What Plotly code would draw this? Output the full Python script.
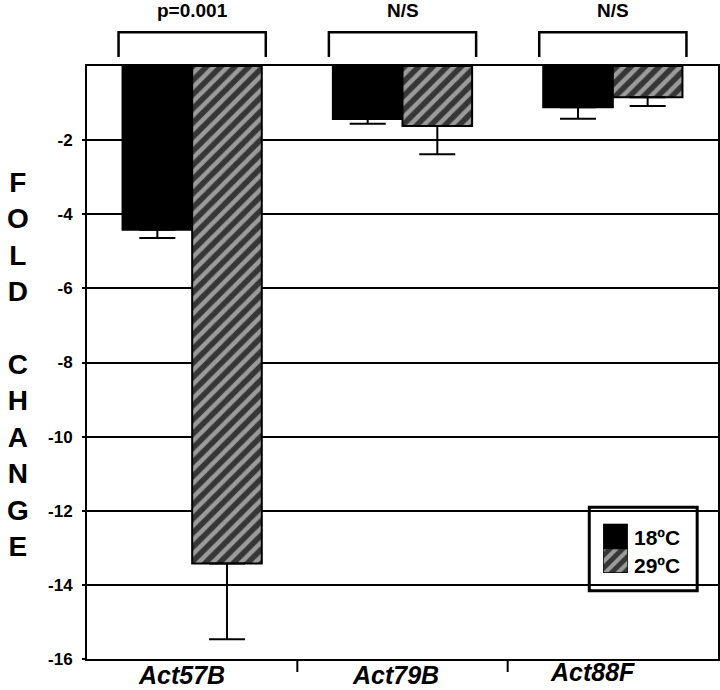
import plotly.graph_objects as go

categories = ["Act57B", "Act79B", "Act88F"]
fold_18 = [-4.42, -1.43, -1.11]
err_18 = [0.22, 0.13, 0.31]
fold_29 = [-13.42, -1.62, -0.84]
err_29 = [2.05, 0.76, 0.24]
significance = ["p=0.001", "N/S", "N/S"]
series_names = ["18ºC", "29ºC"]
tick_vals = [-2, -4, -6, -8, -10, -12, -14, -16]
tick_text = ["-2", "-4", "-6", "-8", "-10", "-12", "-14", "-16"]
y_title = "F<br>O<br>L<br>D<br> <br>C<br>H<br>A<br>N<br>G<br>E"

FONT = "Liberation Sans, Arial, sans-serif"
HATCH = dict(shape="/", fgcolor="white", bgcolor="#363636", size=10, solidity=0.45)
err_style = dict(type="data", symmetric=False, color="black", thickness=2, width=18)

fig = go.Figure()

fig.add_trace(
    go.Bar(
        x=categories, y=fold_18, name=series_names[0], showlegend=False,
        marker=dict(color="black", line=dict(color="black", width=2)),
        error_y=dict(array=[0] * len(categories), arrayminus=err_18, **err_style),
    )
)
fig.add_trace(
    go.Bar(
        x=categories, y=fold_29, name=series_names[1], showlegend=False,
        marker=dict(color="#363636", line=dict(color="black", width=2), pattern=HATCH),
        error_y=dict(array=[0] * len(categories), arrayminus=err_29, **err_style),
    )
)

# hand-made legend: swatches on a small inset axis pair
fig.add_trace(
    go.Bar(x=[0], y=[1], base=[1], width=1, offset=-0.5, xaxis="x2", yaxis="y2",
           showlegend=False, hoverinfo="skip",
           marker=dict(color="black", line=dict(color="black", width=1.5)))
)
fig.add_trace(
    go.Bar(x=[0], y=[1], base=[0], width=1, offset=-0.5, xaxis="x2", yaxis="y2",
           showlegend=False, hoverinfo="skip",
           marker=dict(color="#363636", line=dict(color="black", width=1.5),
                       pattern=dict(HATCH, size=9)))
)
fig.add_shape(type="rect", xref="paper", yref="paper", x0=0.796, x1=0.967, y0=0.115, y1=0.256,
              line=dict(color="black", width=3), fillcolor="white", layer="below")
for k, nm in enumerate(series_names):
    fig.add_annotation(
        x=0.863, xref="paper", y=0.205 - k * 0.047, yref="paper", text=f"<b>{nm}</b>",
        showarrow=False, xanchor="left", yanchor="middle",
        font=dict(family=FONT, size=21, color="black"),
    )

# significance brackets
for i, label in enumerate(significance):
    x0, x1 = i - 0.35, i + 0.35
    fig.add_shape(
        type="path", xref="x", yref="paper",
        path=f"M {x0} 1.015 L {x0} 1.057 L {x1} 1.057 L {x1} 1.015",
        line=dict(color="black", width=2.5),
    )
    fig.add_annotation(
        x=i, xref="x", y=1.093, yref="paper", text=f"<b>{label}</b>",
        showarrow=False, yanchor="middle", font=dict(family=FONT, size=19, color="black"),
    )

# category labels, slightly left of centre as in the original
label_shift = [-11, -7, -20]
label_y = [-0.027, -0.027, -0.022]
for i, cat in enumerate(categories):
    fig.add_annotation(
        x=i, xref="x", y=label_y[i], yref="paper", xshift=label_shift[i], text=f"<b><i>{cat}</i></b>",
        showarrow=False, xanchor="center", yanchor="middle",
        font=dict(family=FONT, size=25, color="black"),
    )

# category separator ticks
for b in [0.5, 1.5]:
    fig.add_shape(type="line", xref="x", yref="paper", x0=b, x1=b, y0=0, y1=-0.022,
                  line=dict(color="black", width=2))

fig.add_annotation(
    x=-0.109, xref="paper", y=0.497, yref="paper", text=f"<b>{y_title}</b>",
    showarrow=False, xanchor="center", yanchor="middle",
    font=dict(family=FONT, size=28, color="black"),
)

fig.update_layout(
    width=720,
    height=690,
    margin=dict(l=87, r=2, t=66, b=31, autoexpand=False),
    plot_bgcolor="white",
    paper_bgcolor="white",
    barmode="group",
    bargap=0.338,
    bargroupgap=0,
    showlegend=False,
    font=dict(family=FONT, color="black"),
    xaxis=dict(
        showline=True, linecolor="black", linewidth=2, mirror=True,
        ticks="", showgrid=False, showticklabels=False, automargin=False,
    ),
    yaxis=dict(
        range=[-16, 0], automargin=False,
        showline=True, linecolor="black", linewidth=2, mirror=True,
        showgrid=True, gridcolor="black", gridwidth=2,
        tickvals=tick_vals, ticktext=tick_text,
        ticks="outside", ticklen=3, tickwidth=2, tickcolor="black",
        ticklabelstandoff=6,
        tickfont=dict(family=FONT, size=17, color="black", weight="bold"),
        zeroline=False,
    ),
    xaxis2=dict(domain=[0.818, 0.857], anchor="y2", range=[-0.5, 0.5], visible=False, fixedrange=True),
    yaxis2=dict(domain=[0.145, 0.228], anchor="x2", range=[0, 2], visible=False, fixedrange=True),
)

fig.write_html(
    "out.html",
    config={"displayModeBar": False},
    post_script="document.body.style.margin = '0';",
)
